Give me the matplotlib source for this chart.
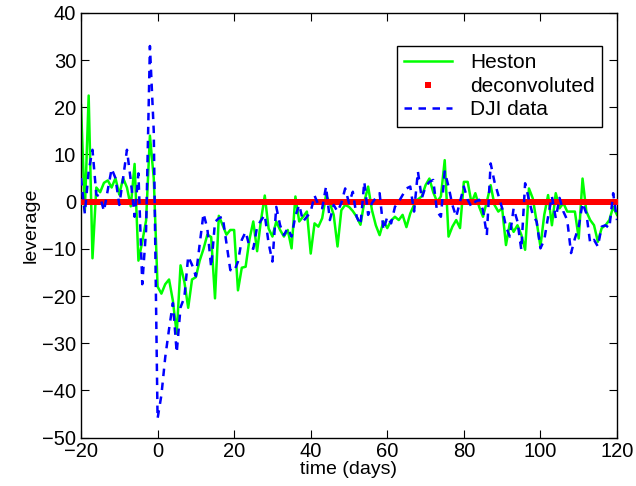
import matplotlib
matplotlib.use("Agg")
import matplotlib.pyplot as plt

plt.rcParams['font.family'] = ['Liberation Sans', 'DejaVu Sans']

days = list(range(-20, 121))

heston = [
    20.5, -2, 22.5, -12, 3, 2, 4, 4.5, 3, 5,
    1.5, 5, 3, -1, 8, -12.5, -8.5, -4, 14, 5,
    -18, -19.5, -17.5, -16.5, -21, -28, -13.5, -17, -22.5, -16.5,
    -16, -12.5, -10, -7, -7.5, -20.5, -3, -5, -7, -6,
    -6, -18.8, -14, -13.8, -8, -4.2, -10.5, -4, 1.3, -5.7,
    -7.4, -4.2, -6, -7.4, -6, -9.9, 1.1, -4.2, -3.2, -2.1,
    -11, -4.6, -5.3, -3.5, 1.4, -0.3, -2.8, -9.5, -1.8, -0.7,
    -1.1, -2, -3.2, -4.9, 0, 3.2, -1.8, -5, -7.1, -4.2,
    -5.6, -4, -3.2, -3.9, -2.8, -5.4, -2.5, -0.7, 0.5, 1.1,
    3.5, 4.9, 2, 0, 1.1, 8.8, -7.4, -5.3, -3.9, -5.6,
    4.2, 4.2, -0.3, 1.8, -1.1, -3.2, 0, 3.5, -0.7, -2.1,
    -1.4, -9.2, -4.6, -6.4, -5, -7, -10.2, 2.8, 0.7, -4.2,
    -9.5, -2.8, 1.4, -5, 1.8, -1.4, -0.3, -2.1, -2.1, -2.1,
    -7.8, 4.9, -2.1, -3.9, -5, -8.5, -5.6, -5, -3.9, -1.1,
    -2.8,
]

deconvoluted = [0.0] * len(days)

dji = [
    5, -2.5, 6.5, 11, 1.5, 1, -2, 2.5, 7, 5,
    -0.7, 5, 11, 4.5, -3.2, 6, -17.5, -6, 33, 15,
    -46, -41, -33, -27, -21.5, -32, -22.4, -20.3, -11.6, -13.4,
    -15.8, -9, -2.5, -5.7, -13.9, -4.3, -3.5, -3.2, -8.8, -14.5,
    -14.8, -12.7, -8.1, -6.4, -9.5, -10, -5.3, -4, -2.8, -8.8,
    -12.7, -1.1, -5, -7.1, -5.6, -7.4, -3, -0.7, -4.2, -3.2,
    -2.1, 1.3, -0.7, -1.4, 3.2, -3.9, -0.7, -2.1, -0.3, 2.8,
    -0.3, 2.1, -3.2, -4.9, 4.2, -2.8, -0.3, 0.8, 1.8, -6,
    -3.2, -4.6, -1.1, 0, 1.4, 2.8, 3.2, -2.1, 6.4, 0.7,
    3.2, 4.2, 4.6, -2.1, -3.2, 6.4, 3.2, -0.7, -3.2, 0,
    3.2, 0.4, -1.1, 0, 0.4, -1.8, -7.1, 8.1, 4.2, 1.4,
    -1.4, -5.3, -7.4, -1.4, -4.2, -10.2, 3.9, 0.4, -2.8, -4.2,
    -9.9, -8.1, -3.2, 1.1, -3.5, 0.8, -2.1, -3.9, -10.9, -7.8,
    -5.3, -0.3, -2.5, -8.8, -8.1, -9.5, -5.3, -5, -5.6, 1.8,
    -3.9,
]

xticks = [-20, 0, 20, 40, 60, 80, 100, 120]
yticks = [-50, -40, -30, -20, -10, 0, 10, 20, 30, 40]

fig = plt.figure(figsize=(6.36, 4.86), dpi=100)
ax = fig.add_axes([81/636, 1 - 437.5/486, 536/636, 424.5/486])

ax.plot(days, heston, color=(0, 1, 0), lw=1.8, label='Heston', zorder=2)
ax.plot(days, deconvoluted, linestyle='none', marker='s', markersize=4.3,
        markerfacecolor=(1, 0, 0), markeredgecolor=(1, 0, 0), markeredgewidth=0,
        label='deconvoluted', zorder=3)
ax.plot(days, dji, color=(0, 0, 1), lw=1.8, linestyle=(0, (3.0, 2.6)),
        label='DJI data', zorder=4)

ax.set_xlim(-20, 120)
ax.set_ylim(-50, 40)
ax.set_xticks(xticks)
ax.set_yticks(yticks)
ax.tick_params(direction='in', length=6, width=0.8, top=True, right=True,
               labelsize=14.5)
ax.tick_params(axis='x', pad=3)
ax.tick_params(axis='y', pad=3.5)
for s in ax.spines.values():
    s.set_linewidth(1.0)

ax.set_xlabel('time (days)', fontsize=14, labelpad=0)
ax.set_ylabel('leverage', fontsize=14, labelpad=2)

leg = ax.legend(loc='upper right', bbox_to_anchor=(602/636, 1 - 46/486),
                bbox_transform=fig.transFigure, borderaxespad=0,
                fontsize=15, fancybox=False, framealpha=1, edgecolor='black',
                handlelength=2.3, handletextpad=0.85, labelspacing=0.22,
                borderpad=0.35, markerscale=0.9)
leg.get_frame().set_linewidth(1.0)

fig.savefig('out.png', dpi=100)
